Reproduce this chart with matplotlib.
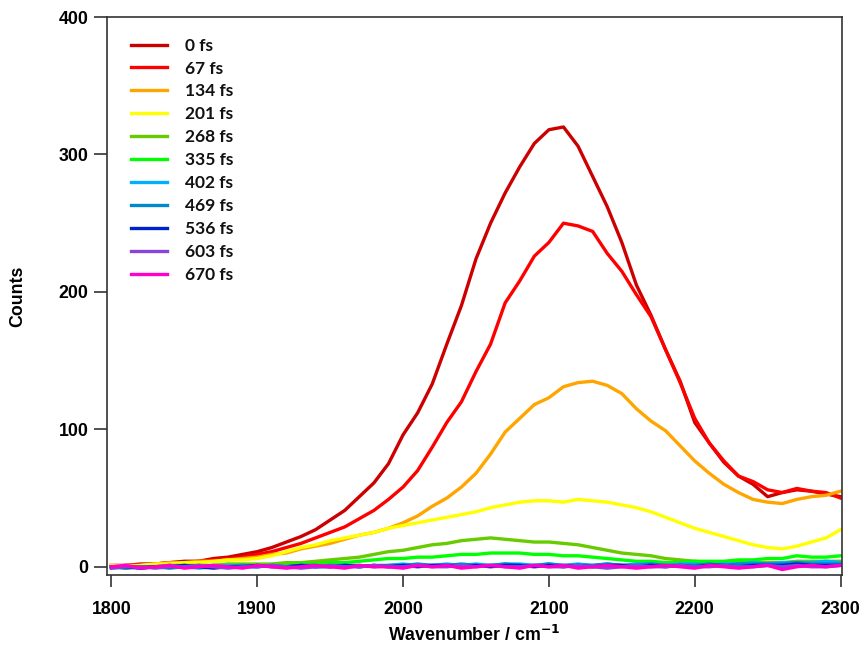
import numpy as np
import matplotlib
matplotlib.use("Agg")
import matplotlib.pyplot as plt
from matplotlib.font_manager import FontProperties

# wavenumber grid (cm^-1), step 10
wavenumber = list(range(1800, 2301, 10))

delays = ["0 fs", "67 fs", "134 fs", "201 fs", "268 fs", "335 fs",
          "402 fs", "469 fs", "536 fs", "603 fs", "670 fs"]
colors = ["#cc0000", "#ff0000", "#ffa500", "#ffff00", "#66cc00", "#00ff00",
          "#00b0ff", "#0088cc", "#0022cc", "#8844dd", "#ff00cc"]

# counts, one list per delay
counts_0 = [1, 1, 2, 2, 3, 4, 4, 6, 7, 9,
            11, 14, 18, 22, 27, 34, 41, 51, 61, 75,
            96, 112, 133, 162, 190, 224, 250, 272, 291, 308,
            318, 320, 306, 284, 262, 236, 205, 183, 158, 135,
            105, 90, 76, 66, 60, 51, 54, 56, 55, 53, 51]
counts_67 = [0, 1, 1, 2, 3, 3, 4, 5, 6, 7,
             9, 11, 14, 17, 21, 25, 29, 35, 41, 49,
             58, 70, 87, 105, 120, 142, 162, 192, 208, 226,
             236, 250, 248, 244, 228, 215, 198, 182, 158, 134,
             108, 90, 77, 66, 62, 56, 54, 57, 55, 54, 50]
counts_134 = [0, 1, 1, 2, 3, 3, 4, 4, 5, 6,
              7, 9, 10, 13, 15, 17, 20, 23, 25, 28,
              32, 37, 44, 50, 58, 68, 82, 98, 108, 118,
              123, 131, 134, 135, 132, 126, 115, 106, 99, 88,
              77, 68, 60, 54, 49, 47, 46, 49, 51, 52, 55]
counts_201 = [1, 0, 1, 2, 2, 3, 3, 4, 5, 5,
              6, 8, 11, 14, 16, 19, 21, 23, 25, 28,
              30, 32, 34, 36, 38, 40, 43, 45, 47, 48,
              48, 47, 49, 48, 47, 45, 43, 40, 36, 32,
              28, 25, 22, 19, 16, 14, 13, 15, 18, 21, 27]
counts_268 = [0, -1, 0, 0, 1, 1, 1, 1, 2, 2,
              2, 2, 3, 3, 4, 5, 6, 7, 9, 11,
              12, 14, 16, 17, 19, 20, 21, 20, 19, 18,
              18, 17, 16, 14, 12, 10, 9, 8, 6, 5,
              4, 3, 3, 3, 3, 3, 3, 4, 4, 4, 4]
counts_335 = [0, 0, 0, 0, 0, 1, 0, 1, 1, 1,
              1, 1, 1, 2, 2, 3, 3, 4, 5, 6,
              6, 7, 7, 8, 9, 9, 10, 10, 10, 9,
              9, 8, 8, 7, 6, 5, 4, 4, 3, 3,
              4, 4, 4, 5, 5, 6, 6, 8, 7, 7, 8]
counts_402 = [-1, 0, -1, 0, 1, 0, -1, 0, 1, 0,
              0, 1, 0, 1, 0, 1, 1, 0, 1, 1,
              2, 1, 1, 2, 1, 2, 1, 2, 2, 1,
              2, 1, 2, 1, 2, 1, 2, 2, 1, 2,
              2, 1, 2, 2, 3, 2, 3, 3, 3, 4, 3]
counts_469 = [0, -1, 0, 0, -1, 0, 1, 0, 0, 1,
              0, 1, 0, 1, 1, 0, 1, 1, 0, 1,
              1, 2, 1, 1, 2, 1, 1, 2, 1, 1,
              2, 1, 1, 1, 2, 1, 1, 2, 1, 1,
              1, 2, 1, 2, 2, 2, 2, 3, 2, 2, 2]
counts_536 = [0, 0, -1, 0, 0, 1, 0, -1, 0, 0,
              1, 0, 0, 1, 0, 0, 1, 0, 1, 0,
              1, 0, 1, 1, 0, 1, 0, 1, 1, 0,
              1, 0, 1, 0, 1, 1, 0, 1, 0, 1,
              0, 1, 1, 0, 1, 1, 1, 2, 1, 1, 1]
counts_603 = [-1, 0, 0, -1, 0, 0, 1, 0, -1, 0,
              0, 1, 0, -1, 0, 1, 0, 0, 1, 0,
              0, 1, 0, 0, 1, 0, 1, 0, 0, 1,
              0, 0, 1, 0, -1, 0, 1, 0, 0, 1,
              0, 0, 1, 0, 0, 1, 0, 1, 0, 0, 1]
counts_670 = [0, 1, -1, 0, 1, -1, 0, 1, 0, -1,
              1, 0, -1, 0, 1, 0, -1, 1, 0, 0,
              -1, 1, 0, 1, -1, 0, 1, 0, -1, 1,
              0, 1, -1, 0, 1, 0, -1, 0, 1, 0,
              -1, 1, 0, -1, 0, 1, -2, 0, 1, 0, 1]

all_counts = [counts_0, counts_67, counts_134, counts_201, counts_268, counts_335,
              counts_402, counts_469, counts_536, counts_603, counts_670]

tick_font = FontProperties(family="Liberation Sans", weight="bold", size=12.8)

fig = plt.figure(figsize=(8.63, 6.45), dpi=100)
ax = fig.add_axes([0.124, 0.1085, 0.8517, 0.8651])

for label, col, y in zip(delays, colors, all_counts):
    ax.plot(wavenumber, y, color=col, lw=2.4, label=label)

ax.set_xlim(1797, 2301)
ax.set_ylim(-6, 400)
ax.set_xticks(range(1800, 2301, 100))
ax.set_yticks(range(0, 401, 100))
ax.tick_params(direction="out", width=1.2, color="#333333")
ax.tick_params(axis="x", length=8.6, pad=10)
ax.tick_params(axis="y", length=9.4, pad=4)
for lab in ax.get_xticklabels() + ax.get_yticklabels():
    lab.set_fontproperties(tick_font)
for s in ax.spines.values():
    s.set_linewidth(1.2)
    s.set_color("#333333")

ax.set_xlabel("Wavenumber / cm$^{\\mathbf{-1}}$", fontproperties=tick_font, labelpad=5)
ax.set_ylabel("Counts", fontproperties=tick_font)
ax.yaxis.set_label_coords(-0.11, 0.5)

leg = ax.legend(loc="upper left", bbox_to_anchor=(0.0327, 0.963), frameon=False,
                prop={"family": "Lato", "weight": "bold", "size": 12.5},
                handlelength=2.07, handletextpad=1.03, labelspacing=0.397,
                borderpad=0, borderaxespad=0)
for t in leg.get_texts():
    t.set_color("#111111")

fig.savefig("out.png", dpi=100)
